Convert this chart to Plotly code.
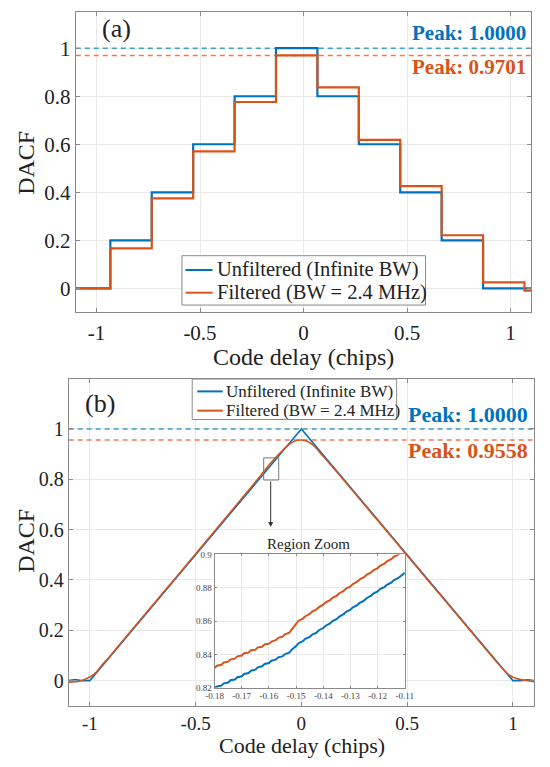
import plotly.graph_objects as go

# (a) escalones: bordes del código y valores por tramo
X_STEP = [-1.1, -0.933, -0.733, -0.533, -0.333, -0.133, 0.067, 0.267, 0.467, 0.667, 0.867, 1.067, 1.1]
Y_STEP_UNF = [0.0, 0.2, 0.4, 0.6, 0.8, 1.0, 0.8, 0.6, 0.4, 0.2, 0.0, 0.0, 0.0]
Y_STEP_FIL = [0.0, 0.166, 0.375, 0.570, 0.776, 0.9701, 0.837, 0.618, 0.426, 0.221, 0.025, -0.01, -0.01]
PEAKS_A = [1.0, 0.9701]

# (b) triangulo sin filtrar y curva filtrada
XB_UNF = [-1.1, -1.07, -1.04, -1.0, 0.0, 1.0, 1.04, 1.07, 1.1]
YB_UNF = [0.0, 0.004, 0.0, 0.0, 1.0, 0.0, 0.0, 0.003, 0.0]
XB_FIL = [-1.1, -1.05, -1.0, -0.97, -0.95, -0.9, -0.8, -0.6, -0.4, -0.2, -0.15, -0.1, -0.06, -0.03,
          0.0, 0.03, 0.06, 0.1, 0.2, 0.4, 0.6, 0.8, 0.9, 0.95, 0.97, 1.0, 1.05, 1.1]
YB_FIL = [-0.006, -0.003, 0.014, 0.033, 0.054, 0.102, 0.203, 0.403, 0.604, 0.807, 0.86, 0.905, 0.937, 0.952,
          0.9558, 0.95, 0.932, 0.894, 0.797, 0.597, 0.397, 0.197, 0.097, 0.049, 0.031, 0.013, 0.002, -0.004]
PEAKS_B = [1.0, 0.9558]

# zoom de la region
XZ = [-0.18, -0.1791, -0.1775, -0.1766, -0.175, -0.1741, -0.1725, -0.1716, -0.17, -0.1691,
      -0.1675, -0.1666, -0.165, -0.1641, -0.1625, -0.1616, -0.16, -0.1591, -0.1575, -0.1566,
      -0.155, -0.1541, -0.1525, -0.1516, -0.15, -0.1491, -0.1475, -0.1466, -0.145, -0.1441,
      -0.1425, -0.1416, -0.14, -0.1391, -0.1375, -0.1366, -0.135, -0.1341, -0.1325, -0.1316,
      -0.13, -0.1291, -0.1275, -0.1266, -0.125, -0.1241, -0.1225, -0.1216, -0.12, -0.1191,
      -0.1175, -0.1166, -0.115, -0.1141, -0.1125, -0.1116, -0.11]
YZ_UNF = [0.8200, 0.8207, 0.8212, 0.8226, 0.8231, 0.8245, 0.8249, 0.8263, 0.8268, 0.8282,
          0.8288, 0.8302, 0.8308, 0.8322, 0.8328, 0.8342, 0.8348, 0.8362, 0.8368, 0.8382,
          0.8388, 0.8402, 0.8410, 0.8428, 0.8450, 0.8467, 0.8479, 0.8493, 0.8505, 0.8519,
          0.8531, 0.8545, 0.8558, 0.8572, 0.8586, 0.8600, 0.8613, 0.8627, 0.8641, 0.8655,
          0.8668, 0.8682, 0.8696, 0.8710, 0.8723, 0.8737, 0.8751, 0.8765, 0.8778, 0.8792,
          0.8804, 0.8818, 0.8831, 0.8845, 0.8857, 0.8871, 0.8890]
YZ_FIL = [0.8318, 0.8332, 0.8337, 0.8351, 0.8356, 0.8370, 0.8374, 0.8388, 0.8393, 0.8407,
          0.8411, 0.8425, 0.8428, 0.8442, 0.8446, 0.8460, 0.8463, 0.8477, 0.8485, 0.8499,
          0.8506, 0.8520, 0.8530, 0.8550, 0.8583, 0.8602, 0.8615, 0.8629, 0.8643, 0.8657,
          0.8670, 0.8684, 0.8698, 0.8712, 0.8726, 0.8740, 0.8753, 0.8767, 0.8781, 0.8795,
          0.8808, 0.8822, 0.8836, 0.8850, 0.8863, 0.8877, 0.8891, 0.8905, 0.8918, 0.8932,
          0.8944, 0.8958, 0.8971, 0.8985, 0.8997, 0.9011, 0.9030]

NOMBRES = ["Unfiltered (Infinite BW)", "Filtered (BW = 2.4 MHz)"]
X_TICKS = [-1, -0.5, 0, 0.5, 1]
X_TICKTEXT = ["-1", "-0.5", "0", "0.5", "1"]
Y_TICKS = [0, 0.2, 0.4, 0.6, 0.8, 1]
Y_TICKTEXT = ["0", "0.2", "0.4", "0.6", "0.8", "1"]
XZ_TICKS = [-0.18, -0.17, -0.16, -0.15, -0.14, -0.13, -0.12, -0.11]
XZ_TICKTEXT = ["-0.18", "-0.17", "-0.16", "-0.15", "-0.14", "-0.13", "-0.12", "-0.11"]
YZ_TICKS = [0.82, 0.84, 0.86, 0.88, 0.9]
YZ_TICKTEXT = ["0.82", "0.84", "0.86", "0.88", "0.9"]

AZUL = "#0072BD"
NARANJA = "#D95319"
AZUL_DASH = "#3b9fcf"
NARANJA_DASH = "#ef7a52"
FUENTE = "Liberation Serif"
BORDE = "#8a8a8a"
GRID = "#e8e8e8"
W, H = 550, 767


def px(x):
    return x / W


def py(y):
    return 1 - y / H


fig = go.Figure()

# ---- panel (a)
fig.add_trace(go.Scatter(x=[-1.1, 1.1], y=[PEAKS_A[0]] * 2, mode="lines", showlegend=False,
                         line=dict(color=AZUL_DASH, width=1.5, dash="5px,4px"), xaxis="x", yaxis="y"))
fig.add_trace(go.Scatter(x=[-1.1, 1.1], y=[PEAKS_A[1]] * 2, mode="lines", showlegend=False,
                         line=dict(color=NARANJA_DASH, width=1.5, dash="5px,4px"), xaxis="x", yaxis="y"))
fig.add_trace(go.Scatter(x=X_STEP, y=Y_STEP_UNF, mode="lines", line_shape="hv", showlegend=False,
                         name=NOMBRES[0], line=dict(color=AZUL, width=2.2), xaxis="x", yaxis="y"))
fig.add_trace(go.Scatter(x=X_STEP, y=Y_STEP_FIL, mode="lines", line_shape="hv", showlegend=False,
                         name=NOMBRES[1], line=dict(color=NARANJA, width=2.2), xaxis="x", yaxis="y"))

# ---- panel (b)
fig.add_trace(go.Scatter(x=[-1.1, 1.1], y=[PEAKS_B[0]] * 2, mode="lines", showlegend=False,
                         line=dict(color=AZUL_DASH, width=1.5, dash="5px,4px"), xaxis="x2", yaxis="y2"))
fig.add_trace(go.Scatter(x=[-1.1, 1.1], y=[PEAKS_B[1]] * 2, mode="lines", showlegend=False,
                         line=dict(color=NARANJA_DASH, width=1.5, dash="5px,4px"), xaxis="x2", yaxis="y2"))
fig.add_trace(go.Scatter(x=XB_UNF, y=YB_UNF, mode="lines", showlegend=False,
                         name=NOMBRES[0], line=dict(color=AZUL, width=1.6), xaxis="x2", yaxis="y2"))
fig.add_trace(go.Scatter(x=XB_FIL, y=YB_FIL, mode="lines", line_shape="spline", showlegend=False,
                         name=NOMBRES[1], line=dict(color=NARANJA, width=1.6), xaxis="x2", yaxis="y2"))

# ---- zoom
fig.add_trace(go.Scatter(x=XZ, y=YZ_UNF, mode="lines", showlegend=False,
                         line=dict(color=AZUL, width=2), xaxis="x3", yaxis="y3"))
fig.add_trace(go.Scatter(x=XZ, y=YZ_FIL, mode="lines", showlegend=False,
                         line=dict(color=NARANJA, width=2), xaxis="x3", yaxis="y3"))

eje = dict(showline=True, mirror="ticks", linecolor=BORDE, linewidth=1, ticks="inside", ticklen=4,
           tickcolor=BORDE, showgrid=True, gridcolor=GRID, zeroline=False,
           tickfont=dict(family=FUENTE, size=21, color="#222"))

fig.update_layout(
    width=W, height=H,
    margin=dict(l=0, r=0, t=0, b=0),
    paper_bgcolor="white", plot_bgcolor="white",
    font=dict(family=FUENTE, color="#222"),
    showlegend=False,
    xaxis=dict(eje, domain=[0.1255, 0.9818], anchor="y", range=[-1.1, 1.1],
               tickvals=X_TICKS, ticktext=X_TICKTEXT, ticklabelstandoff=1),
    yaxis=dict(eje, domain=[0.594, 0.9905], anchor="x", range=[-0.1, 1.15],
               tickvals=Y_TICKS, ticktext=Y_TICKTEXT),
    xaxis2=dict(eje, domain=[0.1122, 0.9869], anchor="y2", range=[-1.1, 1.1], ticklabelstandoff=0,
                tickvals=X_TICKS, ticktext=X_TICKTEXT, tickfont=dict(family=FUENTE, size=19, color="#222")),
    yaxis2=dict(eje, domain=[0.0743, 0.5065], anchor="x2", range=[-0.1, 1.2],
                tickvals=Y_TICKS, ticktext=Y_TICKTEXT, tickfont=dict(family=FUENTE, size=20, color="#222")),
    xaxis3=dict(eje, domain=[0.3864, 0.744], anchor="y3", range=[-0.18, -0.11], ticklen=2,
                tickvals=XZ_TICKS, ticktext=XZ_TICKTEXT, tickfont=dict(family=FUENTE, size=9, color="#444")),
    yaxis3=dict(eje, domain=[0.0982, 0.2742], anchor="x3", range=[0.82, 0.9], ticklen=2,
                tickvals=YZ_TICKS, ticktext=YZ_TICKTEXT, tickfont=dict(family=FUENTE, size=9, color="#444")),
)

# fondo blanco del zoom y marco de la region
fig.add_shape(type="rect", xref="paper", yref="paper", x0=0.3864, x1=0.744, y0=0.0982, y1=0.2742,
              fillcolor="white", line=dict(width=0), layer="below")
fig.add_shape(type="rect", xref="x2", yref="y2", x0=-0.178, x1=-0.107, y0=0.797, y1=0.885,
              line=dict(color="#777", width=1))
fig.add_annotation(x=-0.145, y=0.61, ax=-0.145, ay=0.797, xref="x2", yref="y2", axref="x2", ayref="y2",
                   showarrow=True, arrowhead=2, arrowsize=1, arrowwidth=1, arrowcolor="#333", text="")

# leyendas dibujadas como en la figura original (caja, muestra de linea y texto)
leyendas = [
    # caja x0, x1, y0, y1, muestra x0, x1, filas y, x texto, tamaño
    (178.8, 430.6, 254, 304, 182.5, 210.5, [268.5, 291.5], 213, 20.5),
    (189.4, 400.8, 379, 420, 194.6, 220.9, [391.5, 411.0], 222.6, 17),
]
for bx0, bx1, by0, by1, lx0, lx1, filas, tx, sz in leyendas:
    fig.add_shape(type="rect", xref="paper", yref="paper", x0=px(bx0), x1=px(bx1), y0=py(by1), y1=py(by0),
                  fillcolor="white", line=dict(color=BORDE, width=1), layer="above")
    for fy, col, nombre in zip(filas, [AZUL, NARANJA], NOMBRES):
        fig.add_shape(type="line", xref="paper", yref="paper", x0=px(lx0), x1=px(lx1), y0=py(fy), y1=py(fy),
                      line=dict(color=col, width=2), layer="above")
        fig.add_annotation(x=px(tx), y=py(fy), xref="paper", yref="paper", text=nombre, showarrow=False,
                           xanchor="left", yanchor="middle",
                           font=dict(family=FUENTE, size=sz, color="#222"))

textos = [
    dict(x=0.5527, y=0.5346, text="Code delay (chips)", size=24, angle=0),
    dict(x=0.5502, y=0.0215, text="Code delay (chips)", size=22, angle=0),
    dict(x=0.0318, y=0.7914, text="DACF", size=24, angle=-90),
    dict(x=0.0318, y=0.292, text="DACF", size=24, angle=-90),
    dict(x=0.2018, y=0.9687, text="(a)", size=26, angle=0),
    dict(x=0.171, y=0.4733, text="(b)", size=26, angle=0),
    dict(x=0.5636, y=0.2875, text="Region Zoom", size=15, angle=0),
]
for t in textos:
    fig.add_annotation(x=t["x"], y=t["y"], xref="paper", yref="paper", text=t["text"], showarrow=False,
                       textangle=t["angle"], xanchor="center", yanchor="middle",
                       font=dict(family=FUENTE, size=t["size"], color="#222"))

picos = [
    (0.9755, 0.9635, PEAKS_A[0], AZUL, 21),
    (0.9755, 0.9175, PEAKS_A[1], NARANJA, 21),
    (0.98, 0.459, PEAKS_B[0], AZUL, 22),
    (0.98, 0.412, PEAKS_B[1], NARANJA, 22),
]
for px_, py_, val, col, sz in picos:
    fig.add_annotation(x=px_, y=py_, xref="paper", yref="paper", text="<b>Peak: %.4f</b>" % val,
                       showarrow=False, xanchor="right", yanchor="middle",
                       font=dict(family=FUENTE, size=sz, color=col))

fig.write_html("out.html", config={"displayModeBar": False},
               post_script="document.body.style.margin='0';")
